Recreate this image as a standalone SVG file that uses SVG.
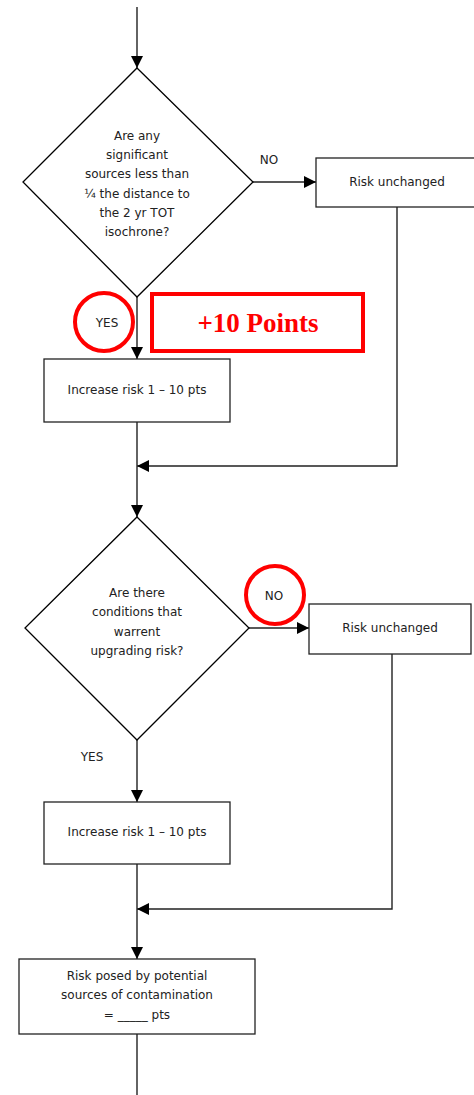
<svg xmlns="http://www.w3.org/2000/svg" width="474" height="1095" viewBox="0 0 474 1095">
  <style>
    .shape { fill: #fff; stroke: #000; stroke-width: 1.3; }
    .box { fill: #fff; stroke: #222; stroke-width: 1.3; }
    .wire { fill: none; stroke: #222; stroke-width: 1.4; }
    .lbl { font-family: "DejaVu Sans", "Liberation Sans", sans-serif; font-size: 12px; fill: #222; text-anchor: middle; }
    .mark { fill: none; stroke: #f00; stroke-width: 4; }
    .points { font-family: "Liberation Serif", serif; font-size: 27px; font-weight: bold; fill: #f00; text-anchor: middle; }
  </style>
  <defs>
    <marker id="arrow" viewBox="0 0 12 12" refX="12" refY="6" markerWidth="12" markerHeight="12" markerUnits="userSpaceOnUse" orient="auto">
      <path d="M0,0 L12,6 L0,12 Z" fill="#000"/>
    </marker>
  </defs>

  <rect width="474" height="1095" fill="#fff"/>

  <!-- connectors -->
  <g id="connectors">
    <line class="wire" x1="137" y1="7" x2="137" y2="68" marker-end="url(#arrow)"/>
    <line class="wire" x1="253" y1="182" x2="316" y2="182" marker-end="url(#arrow)"/>
    <line class="wire" x1="137" y1="297" x2="137" y2="359" marker-end="url(#arrow)"/>
    <polyline class="wire" points="397,207 397,466 137,466" marker-end="url(#arrow)"/>
    <line class="wire" x1="137" y1="422" x2="137" y2="517" marker-end="url(#arrow)"/>
    <line class="wire" x1="249" y1="628" x2="309" y2="628" marker-end="url(#arrow)"/>
    <line class="wire" x1="137" y1="740" x2="137" y2="802" marker-end="url(#arrow)"/>
    <polyline class="wire" points="392,654 392,909 137,909" marker-end="url(#arrow)"/>
    <line class="wire" x1="137" y1="864" x2="137" y2="959" marker-end="url(#arrow)"/>
    <line class="wire" x1="137" y1="1034" x2="137" y2="1095"/>
    <text class="lbl" x="269" y="164">NO</text>
    <text class="lbl" x="107" y="327">YES</text>
    <text class="lbl" x="274" y="600">NO</text>
    <text class="lbl" x="92" y="761">YES</text>
  </g>

  <!-- decision 1 -->
  <g id="decision1">
    <polygon class="shape" points="137,68 253,182 137,297 23,182"/>
    <text class="lbl" x="137" y="140">Are any</text>
    <text class="lbl" x="137" y="159">significant</text>
    <text class="lbl" x="137" y="178">sources less than</text>
    <text class="lbl" x="137" y="198">¼ the distance to</text>
    <text class="lbl" x="137" y="217">the 2 yr TOT</text>
    <text class="lbl" x="137" y="236">isochrone?</text>
  </g>

  <g id="unchanged1">
    <rect class="box" x="316" y="158" width="165" height="49"/>
    <text class="lbl" x="397" y="186">Risk unchanged</text>
  </g>

  <g id="increase1">
    <rect class="box" x="44" y="359" width="186" height="63"/>
    <text class="lbl" x="137" y="394">Increase risk 1 – 10 pts</text>
  </g>

  <!-- decision 2 -->
  <g id="decision2">
    <polygon class="shape" points="137,517 249,628 137,740 25,628"/>
    <text class="lbl" x="137" y="597">Are there</text>
    <text class="lbl" x="137" y="616">conditions that</text>
    <text class="lbl" x="137" y="636">warrent</text>
    <text class="lbl" x="137" y="655">upgrading risk?</text>
  </g>

  <g id="unchanged2">
    <rect class="box" x="309" y="604" width="162" height="50"/>
    <text class="lbl" x="390" y="632">Risk unchanged</text>
  </g>

  <g id="increase2">
    <rect class="box" x="44" y="802" width="186" height="62"/>
    <text class="lbl" x="137" y="836">Increase risk 1 – 10 pts</text>
  </g>

  <g id="result">
    <rect class="box" x="19" y="959" width="236" height="75"/>
    <text class="lbl" x="137" y="980">Risk posed by potential</text>
    <text class="lbl" x="137" y="999">sources of contamination</text>
    <text class="lbl" x="137" y="1019">= _____ pts</text>
  </g>

  <!-- red annotations -->
  <g id="annotations">
    <circle class="mark" cx="104" cy="322" r="29"/>
    <circle class="mark" cx="275" cy="595" r="29"/>
    <rect class="mark" x="152" y="294" width="211" height="57" stroke-width="3"/>
    <text class="points" x="258" y="332">+10 Points</text>
  </g>
</svg>
